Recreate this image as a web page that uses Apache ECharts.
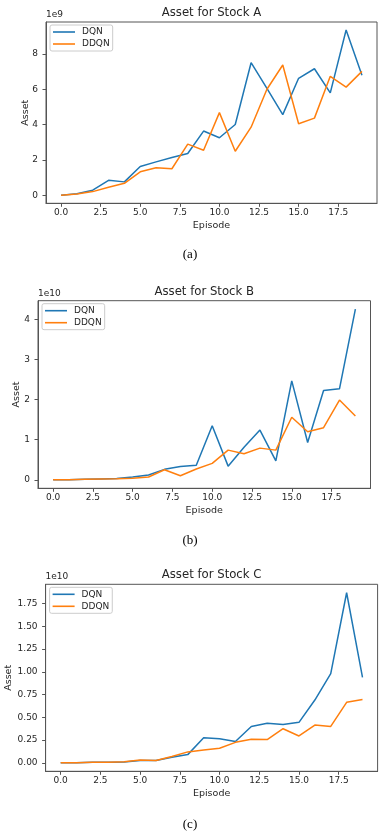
<!DOCTYPE html>
<html>
<head>
<meta charset="utf-8">
<script src="https://cdn.jsdelivr.net/npm/echarts@6/dist/echarts.min.js"></script>
<style>
html,body{margin:0;padding:0;background:#fff;}
#c{width:385px;height:836px;}
</style>
</head>
<body>
<div id="c"></div>
<script>
// Episodes 0..19
const episodes = [0,1,2,3,4,5,6,7,8,9,10,11,12,13,14,15,16,17,18,19];
const xTicks = [0,2.5,5,7.5,10,12.5,15,17.5];

// Stock A (units of 1e9)
const dqnA  = [0.02,0.10,0.30,0.86,0.77,1.64,1.90,2.15,2.37,3.64,3.26,4.01,7.50,6.05,4.57,6.62,7.16,5.80,9.35,6.79];
const ddqnA = [0.02,0.09,0.22,0.47,0.69,1.34,1.57,1.51,2.90,2.56,4.68,2.50,3.86,6.00,7.37,4.05,4.37,6.73,6.12,7.01];
const yTicksA = [0,2,4,6,8];

// Stock B (units of 1e10)
const dqnB  = [0.00,0.00,0.01,0.02,0.03,0.07,0.12,0.26,0.33,0.36,1.35,0.34,0.81,1.24,0.47,2.47,0.93,2.23,2.27,4.26];
const ddqnB = [0.00,0.00,0.01,0.02,0.025,0.04,0.07,0.25,0.10,0.27,0.41,0.74,0.65,0.79,0.74,1.56,1.20,1.30,1.99,1.59];
const yTicksB = [0,1,2,3,4];

// Stock C (units of 1e10)
const dqnC  = [0.00,0.00,0.005,0.005,0.01,0.025,0.025,0.06,0.09,0.275,0.265,0.235,0.40,0.435,0.42,0.445,0.69,0.98,1.87,0.94];
const ddqnC = [0.00,0.00,0.005,0.005,0.012,0.03,0.025,0.07,0.12,0.14,0.16,0.225,0.26,0.255,0.375,0.295,0.415,0.40,0.665,0.695];
const yTicksC = [0,0.25,0.5,0.75,1,1.25,1.5,1.75];

const titles = ['Asset for Stock A','Asset for Stock B','Asset for Stock C'];
const offsets = ['1e9','1e10','1e10'];
const captions = ['(a)','(b)','(c)'];
const seriesNames = ['DQN','DDQN'];

const BLUE = '#1f77b4', ORANGE = '#ff7f0e';
const FONT = 'DejaVu Sans';
const TXT = '#262626', AX = '#555';

const panels = [
  {grid:{left:46, top:22, width:331, height:181.3}, ymin:-0.44, ymax:9.8, ticks:yTicksA, dec:0, dqn:dqnA, ddqn:ddqnA, yGap:15},
  {grid:{left:38, top:300.7, width:332.5, height:187.6}, ymin:-0.213, ymax:4.47, ticks:yTicksB, dec:0, dqn:dqnB, ddqn:ddqnB, yGap:16.5},
  {grid:{left:45.6, top:584.3, width:332, height:187}, ymin:-0.0935, ymax:1.963, ticks:yTicksC, dec:2, dqn:dqnC, ddqn:ddqnC, yGap:32.5}
];

const option = {
  animation:false,
  backgroundColor:'#fff',
  textStyle:{fontFamily:FONT},
  grid:[], xAxis:[], yAxis:[], series:[], title:[], legend:[], graphic:[]
};

panels.forEach((p,i)=>{
  option.grid.push(Object.assign({show:true, borderColor:AX, borderWidth:1, backgroundColor:'transparent',
    containLabel:false, outerBoundsMode:'none'}, p.grid));
  option.xAxis.push({
    type:'value', gridIndex:i, min:-0.95, max:19.95,
    name:'Episode', nameLocation:'middle', nameGap:17,
    nameTextStyle:{fontFamily:FONT, fontSize:9.5, color:TXT},
    axisLine:{show:true, onZero:false, lineStyle:{color:AX, width:1}},
    axisTick:{show:true, inside:false, length:3.5, lineStyle:{color:AX}, customValues:xTicks},
    axisLabel:{color:TXT, fontFamily:FONT, fontSize:9, margin:5, customValues:xTicks, formatter:v=>v.toFixed(1)},
    splitLine:{show:false}
  });
  option.yAxis.push({
    type:'value', gridIndex:i, min:p.ymin, max:p.ymax,
    name:'Asset', nameLocation:'middle', nameGap:p.yGap, nameRotate:90, nameMoveOverlap:false,
    nameTextStyle:{fontFamily:FONT, fontSize:9.5, color:TXT},
    axisLine:{show:true, onZero:false, lineStyle:{color:AX, width:1}},
    axisTick:{show:true, inside:false, length:3.5, lineStyle:{color:AX}, customValues:p.ticks},
    axisLabel:{color:TXT, fontFamily:FONT, fontSize:9, margin:8, customValues:p.ticks, formatter:v=>v.toFixed(p.dec)},
    splitLine:{show:false}
  });
  option.series.push({
    name:seriesNames[0], type:'line', xAxisIndex:i, yAxisIndex:i,
    data:episodes.map((e,k)=>[e,p.dqn[k]]), showSymbol:false, symbol:'none',
    lineStyle:{color:BLUE, width:1.5}, itemStyle:{color:BLUE}
  });
  option.series.push({
    name:seriesNames[1], type:'line', xAxisIndex:i, yAxisIndex:i,
    data:episodes.map((e,k)=>[e,p.ddqn[k]]), showSymbol:false, symbol:'none',
    lineStyle:{color:ORANGE, width:1.5}, itemStyle:{color:ORANGE}
  });
  const g = p.grid;
  option.title.push({
    text:titles[i], left:g.left + g.width/2, top:g.top-15, textAlign:'center', padding:0,
    textStyle:{fontFamily:FONT, fontSize:11.7, fontWeight:'normal', color:TXT}
  });
  option.legend.push({
    data:seriesNames, orient:'vertical', left:g.left+4, top:g.top+3,
    padding:[2,3,2,3], itemGap:2, itemWidth:22, itemHeight:1.6, icon:'rect',
    borderColor:'#ccc', borderWidth:1, borderRadius:2, backgroundColor:'rgba(255,255,255,0.8)',
    textStyle:{fontFamily:FONT, fontSize:9, color:TXT, lineHeight:10, padding:[0,0,0,2]}
  });
  option.graphic.push({
    type:'text', left:g.left, top:g.top-12,
    style:{text:offsets[i], font:'9px "DejaVu Sans"', fill:TXT}
  });
});
// captions
const capY = [255, 540.7, 825];
captions.forEach((c,i)=>{
  option.graphic.push({
    type:'text', x:190, y:capY[i],
    style:{text:c, font:'13px "Liberation Serif"', fill:'#000', align:'center', verticalAlign:'middle'}
  });
});

const chart = echarts.init(document.getElementById('c'), null, {renderer:'canvas'});
chart.setOption(option);
</script>
</body>
</html>
